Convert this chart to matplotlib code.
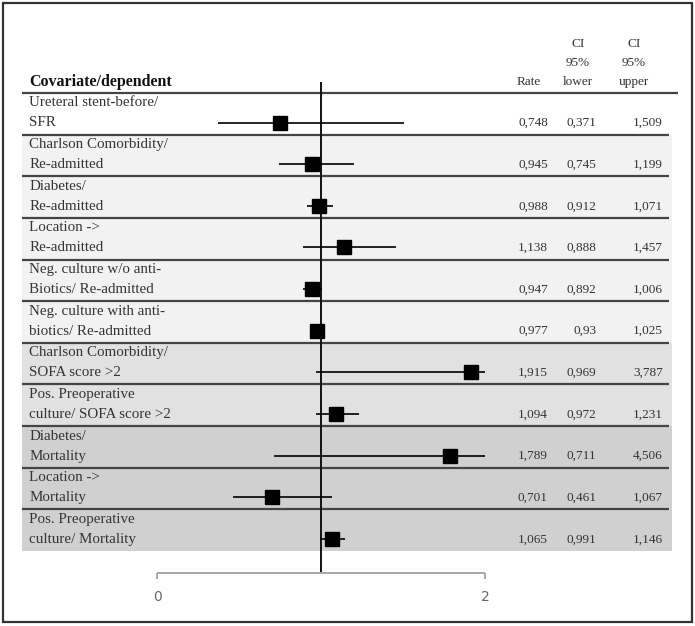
import numpy as np
import matplotlib
matplotlib.use("Agg")
import matplotlib.pyplot as plt
from matplotlib.patches import Rectangle

labels = [
    "Ureteral stent-before/\nSFR",
    "Charlson Comorbidity/\nRe-admitted",
    "Diabetes/\nRe-admitted",
    "Location ->\nRe-admitted",
    "Neg. culture w/o anti-\nBiotics/ Re-admitted",
    "Neg. culture with anti-\nbiotics/ Re-admitted",
    "Charlson Comorbidity/\nSOFA score >2",
    "Pos. Preoperative\nculture/ SOFA score >2",
    "Diabetes/\nMortality",
    "Location ->\nMortality",
    "Pos. Preoperative\nculture/ Mortality",
]
rate = [0.748, 0.945, 0.988, 1.138, 0.947, 0.977, 1.915, 1.094, 1.789, 0.701, 1.065]
lower = [0.371, 0.745, 0.912, 0.888, 0.892, 0.93, 0.969, 0.972, 0.711, 0.461, 0.991]
upper = [1.509, 1.199, 1.071, 1.457, 1.006, 1.025, 3.787, 1.231, 4.506, 1.067, 1.146]
row_shade = ["#ffffff"] + ["#f2f2f2"] * 5 + ["#e1e1e1"] * 2 + ["#d0d0d0"] * 3
xticks = [0, 2]

SERIF = "Liberation Serif"

def fmt(v):
    s = "%g" % v
    return (s if len(s) < 5 else "%.3f" % v).replace(".", ",")

fig = plt.figure(figsize=(6.95, 6.26), dpi=100)
ax = fig.add_axes([0, 0, 1, 1])
ax.set_xlim(-157 / 164, (695 - 157) / 164)
ax.set_ylim(12.8, -2.233)
ax.axis("off")

n = len(labels)
rows = np.arange(n)

# row shading
ax.barh(rows + 0.5, 3.143 + 0.823, left=-0.823, height=1.0, color=row_shade, zorder=0)

# separators
ax.hlines(0, -0.823, 3.177, color="#444444", lw=1.6, zorder=2)
ax.hlines(rows[1:], -0.823, 3.12, color="#444444", lw=1.6, zorder=2)

# reference line at 1
ax.vlines(1, -0.26, 11.5, color="#111111", lw=1.4, zorder=3)

# CI and point estimates
ymark = rows + 0.71
ax.hlines(ymark, lower, np.minimum(upper, 2), color="black", lw=1.2, zorder=4)
ax.plot(rate, ymark, "s", color="black", ms=9.5, zorder=5)

# bottom axis
ax.hlines(11.53, xticks[0], xticks[-1], color="#999999", lw=1.2)
for t in xticks:
    ax.vlines(t, 11.53, 11.68, color="#999999", lw=1.2)
    ax.text(t, 12.1, str(t), ha="center", va="center", fontsize=10, color="#666666")

# table text
ax.text(-0.78, -0.26, "Covariate/dependent", fontfamily=SERIF, fontweight="bold",
        fontsize=11.5, ha="left", va="center", color="#111111")
hdr = dict(fontfamily=SERIF, fontsize=9.5, ha="center", va="bottom", linespacing=1.75, color="#333333")
ax.text(2.268, -0.13, "Rate", **hdr)
ax.text(2.567, -0.13, "CI\n95%\nlower", **hdr)
ax.text(2.909, -0.13, "CI\n95%\nupper", **hdr)

for i in rows:
    first, second = labels[i].split("\n")
    lab = dict(fontfamily=SERIF, fontsize=10.8, ha="left", va="center", color="#333333")
    ax.text(-0.78, i + 0.24, first, **lab)
    ax.text(-0.78, i + 0.72, second, **lab)
    num = dict(fontfamily=SERIF, fontsize=9.5, ha="right", va="center", color="#333333")
    ax.text(2.384, i + 0.72, fmt(rate[i]), **num)
    ax.text(2.677, i + 0.72, fmt(lower[i]), **num)
    ax.text(3.085, i + 0.72, fmt(upper[i]), **num)

# frame
fig.add_artist(Rectangle((3 / 695, 4 / 626), 689 / 695, 619 / 626, transform=fig.transFigure,
                         fill=False, edgecolor="#333333", lw=1.6))

fig.savefig("out.png", dpi=100)
